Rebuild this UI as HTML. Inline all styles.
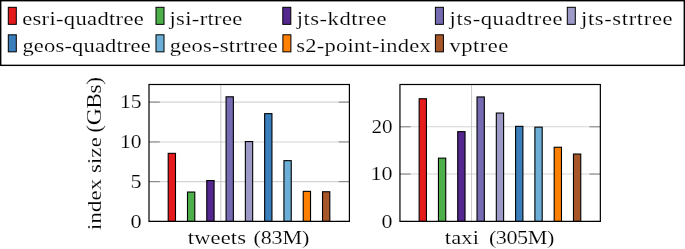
<!DOCTYPE html>
<html><head><meta charset="utf-8"><title>index size</title>
<style>
html,body{margin:0;padding:0;background:#fff;}
body{width:685px;height:249px;overflow:hidden;}
svg{display:block;will-change:transform;}
text{font-family:"Liberation Serif",serif;fill:#000;stroke:#fff;stroke-width:0.15px;}
</style></head><body>
<svg width="685" height="249" viewBox="0 0 685 249">
<rect x="0" y="0" width="685" height="249" fill="#fff"/>
<rect x="0.7" y="0.7" width="683.6" height="64.65" fill="#fff" stroke="#000" stroke-width="1.4"/>
<rect x="8.30" y="7.30" width="8.00" height="17.05" fill="#e41a1c" stroke="#000" stroke-width="1.0"/>
<text transform="translate(22.18,24.55) scale(1.15,1)" font-size="19.6" textLength="105.72" lengthAdjust="spacing">esri-quadtree</text>
<rect x="156.00" y="7.30" width="8.00" height="17.05" fill="#4daf4a" stroke="#000" stroke-width="1.0"/>
<text transform="translate(169.40,24.55) scale(1.15,1)" font-size="19.6" textLength="63.44" lengthAdjust="spacing">jsi-rtree</text>
<rect x="282.80" y="7.30" width="8.00" height="17.05" fill="#54278f" stroke="#000" stroke-width="1.0"/>
<text transform="translate(296.75,24.55) scale(1.15,1)" font-size="19.6" textLength="78.04" lengthAdjust="spacing">jts-kdtree</text>
<rect x="435.40" y="7.30" width="8.00" height="17.05" fill="#756bb1" stroke="#000" stroke-width="1.0"/>
<text transform="translate(449.60,24.55) scale(1.15,1)" font-size="19.6" textLength="98.17" lengthAdjust="spacing">jts-quadtree</text>
<rect x="567.30" y="7.30" width="8.00" height="17.05" fill="#9e9ac8" stroke="#000" stroke-width="1.0"/>
<text transform="translate(581.00,24.55) scale(1.15,1)" font-size="19.6" textLength="79.61" lengthAdjust="spacing">jts-strtree</text>
<rect x="8.30" y="34.80" width="8.00" height="17.05" fill="#3a7fbb" stroke="#000" stroke-width="1.0"/>
<text transform="translate(22.43,52.05) scale(1.15,1)" font-size="19.6" textLength="111.59" lengthAdjust="spacing">geos-quadtree</text>
<rect x="156.00" y="34.80" width="8.00" height="17.05" fill="#6baed6" stroke="#000" stroke-width="1.0"/>
<text transform="translate(169.63,52.05) scale(1.15,1)" font-size="19.6" textLength="94.03" lengthAdjust="spacing">geos-strtree</text>
<rect x="282.90" y="34.80" width="8.00" height="17.05" fill="#ff7f00" stroke="#000" stroke-width="1.0"/>
<text transform="translate(296.14,52.05) scale(1.15,1)" font-size="19.6" textLength="117.06" lengthAdjust="spacing">s2-point-index</text>
<rect x="435.40" y="34.80" width="8.00" height="17.05" fill="#a65628" stroke="#000" stroke-width="1.0"/>
<text transform="translate(449.60,52.05) scale(1.15,1)" font-size="19.6" textLength="51.10" lengthAdjust="spacing">vptree</text>
<line x1="149.0" y1="221.4" x2="349.4" y2="221.4" stroke="#d4d4d4" stroke-width="1.1"/>
<line x1="149.0" y1="181.65" x2="349.4" y2="181.65" stroke="#d4d4d4" stroke-width="1.1"/>
<line x1="149.0" y1="141.95" x2="349.4" y2="141.95" stroke="#d4d4d4" stroke-width="1.1"/>
<line x1="149.0" y1="102.1" x2="349.4" y2="102.1" stroke="#d4d4d4" stroke-width="1.1"/>
<line x1="220.85" y1="84.5" x2="220.85" y2="221.4" stroke="#bdbdbd" stroke-width="0.8"/>
<line x1="149.0" y1="221.4" x2="159.8" y2="221.4" stroke="#7f7f7f" stroke-width="1"/>
<line x1="338.59999999999997" y1="221.4" x2="349.4" y2="221.4" stroke="#7f7f7f" stroke-width="1"/>
<line x1="149.0" y1="181.65" x2="159.8" y2="181.65" stroke="#7f7f7f" stroke-width="1"/>
<line x1="338.59999999999997" y1="181.65" x2="349.4" y2="181.65" stroke="#7f7f7f" stroke-width="1"/>
<line x1="149.0" y1="141.95" x2="159.8" y2="141.95" stroke="#7f7f7f" stroke-width="1"/>
<line x1="338.59999999999997" y1="141.95" x2="349.4" y2="141.95" stroke="#7f7f7f" stroke-width="1"/>
<line x1="149.0" y1="102.1" x2="159.8" y2="102.1" stroke="#7f7f7f" stroke-width="1"/>
<line x1="338.59999999999997" y1="102.1" x2="349.4" y2="102.1" stroke="#7f7f7f" stroke-width="1"/>
<rect x="168.20" y="153.35" width="7.3" height="68.05" fill="#e41a1c" stroke="#000" stroke-width="1.1"/>
<rect x="187.49" y="192.05" width="7.3" height="29.35" fill="#4daf4a" stroke="#000" stroke-width="1.1"/>
<rect x="206.78" y="180.55" width="7.3" height="40.85" fill="#54278f" stroke="#000" stroke-width="1.1"/>
<rect x="226.07" y="96.80" width="7.3" height="124.60" fill="#756bb1" stroke="#000" stroke-width="1.1"/>
<rect x="245.36" y="141.55" width="7.3" height="79.85" fill="#9e9ac8" stroke="#000" stroke-width="1.1"/>
<rect x="264.65" y="113.65" width="7.3" height="107.75" fill="#3a7fbb" stroke="#000" stroke-width="1.1"/>
<rect x="283.94" y="160.65" width="7.3" height="60.75" fill="#6baed6" stroke="#000" stroke-width="1.1"/>
<rect x="303.23" y="191.35" width="7.3" height="30.05" fill="#ff7f00" stroke="#000" stroke-width="1.1"/>
<rect x="322.52" y="191.75" width="7.3" height="29.65" fill="#a65628" stroke="#000" stroke-width="1.1"/>
<rect x="149.0" y="84.5" width="200.40" height="136.90" fill="none" stroke="#000" stroke-width="1.2"/>
<text x="130.42" y="227.75" font-size="18.8" textLength="11.17" lengthAdjust="spacingAndGlyphs">0</text>
<text x="130.61" y="188.00" font-size="18.8" textLength="11.03" lengthAdjust="spacingAndGlyphs">5</text>
<text x="119.98" y="148.30" font-size="18.8" textLength="21.58" lengthAdjust="spacingAndGlyphs">10</text>
<text x="119.98" y="108.45" font-size="18.8" textLength="21.58" lengthAdjust="spacingAndGlyphs">15</text>
<text transform="translate(187.74,243.50) scale(1.15,1)" font-size="19.6" textLength="50.59" lengthAdjust="spacing">tweets</text>
<text transform="translate(253.55,243.50) scale(1.15,1)" font-size="19.2" textLength="48.51" lengthAdjust="spacing">(83M)</text>
<line x1="399.95" y1="221.4" x2="600.35" y2="221.4" stroke="#d4d4d4" stroke-width="1.1"/>
<line x1="399.95" y1="174.05" x2="600.35" y2="174.05" stroke="#d4d4d4" stroke-width="1.1"/>
<line x1="399.95" y1="126.8" x2="600.35" y2="126.8" stroke="#d4d4d4" stroke-width="1.1"/>
<line x1="471.55" y1="84.5" x2="471.55" y2="221.4" stroke="#bdbdbd" stroke-width="0.8"/>
<line x1="399.95" y1="221.4" x2="410.75" y2="221.4" stroke="#7f7f7f" stroke-width="1"/>
<line x1="589.5500000000001" y1="221.4" x2="600.35" y2="221.4" stroke="#7f7f7f" stroke-width="1"/>
<line x1="399.95" y1="174.05" x2="410.75" y2="174.05" stroke="#7f7f7f" stroke-width="1"/>
<line x1="589.5500000000001" y1="174.05" x2="600.35" y2="174.05" stroke="#7f7f7f" stroke-width="1"/>
<line x1="399.95" y1="126.8" x2="410.75" y2="126.8" stroke="#7f7f7f" stroke-width="1"/>
<line x1="589.5500000000001" y1="126.8" x2="600.35" y2="126.8" stroke="#7f7f7f" stroke-width="1"/>
<rect x="419.15" y="98.75" width="7.3" height="122.65" fill="#e41a1c" stroke="#000" stroke-width="1.1"/>
<rect x="438.44" y="158.15" width="7.3" height="63.25" fill="#4daf4a" stroke="#000" stroke-width="1.1"/>
<rect x="457.73" y="131.65" width="7.3" height="89.75" fill="#54278f" stroke="#000" stroke-width="1.1"/>
<rect x="477.02" y="96.95" width="7.3" height="124.45" fill="#756bb1" stroke="#000" stroke-width="1.1"/>
<rect x="496.31" y="113.05" width="7.3" height="108.35" fill="#9e9ac8" stroke="#000" stroke-width="1.1"/>
<rect x="515.60" y="126.35" width="7.3" height="95.05" fill="#3a7fbb" stroke="#000" stroke-width="1.1"/>
<rect x="534.89" y="127.15" width="7.3" height="94.25" fill="#6baed6" stroke="#000" stroke-width="1.1"/>
<rect x="554.18" y="147.25" width="7.3" height="74.15" fill="#ff7f00" stroke="#000" stroke-width="1.1"/>
<rect x="573.47" y="154.05" width="7.3" height="67.35" fill="#a65628" stroke="#000" stroke-width="1.1"/>
<rect x="399.95" y="84.5" width="200.40" height="136.90" fill="none" stroke="#000" stroke-width="1.2"/>
<text x="381.60" y="227.75" font-size="18.8" textLength="10.99" lengthAdjust="spacingAndGlyphs">0</text>
<text x="370.49" y="180.40" font-size="18.8" textLength="22.07" lengthAdjust="spacingAndGlyphs">10</text>
<text x="371.40" y="133.15" font-size="18.8" textLength="21.12" lengthAdjust="spacingAndGlyphs">20</text>
<text transform="translate(444.74,243.50) scale(1.15,1)" font-size="19.6" textLength="29.80" lengthAdjust="spacing">taxi</text>
<text transform="translate(488.97,243.50) scale(1.15,1)" font-size="19.2" textLength="56.76" lengthAdjust="spacing">(305M)</text>
<text transform="translate(100.8,230.01) rotate(-90) scale(1.15,1)" font-size="19.6" textLength="80.58" lengthAdjust="spacing">index size</text>
<text transform="translate(100.8,132.75) rotate(-90) scale(1.15,1)" font-size="20.5" textLength="48.52" lengthAdjust="spacing">(GBs)</text>
</svg></body></html>
